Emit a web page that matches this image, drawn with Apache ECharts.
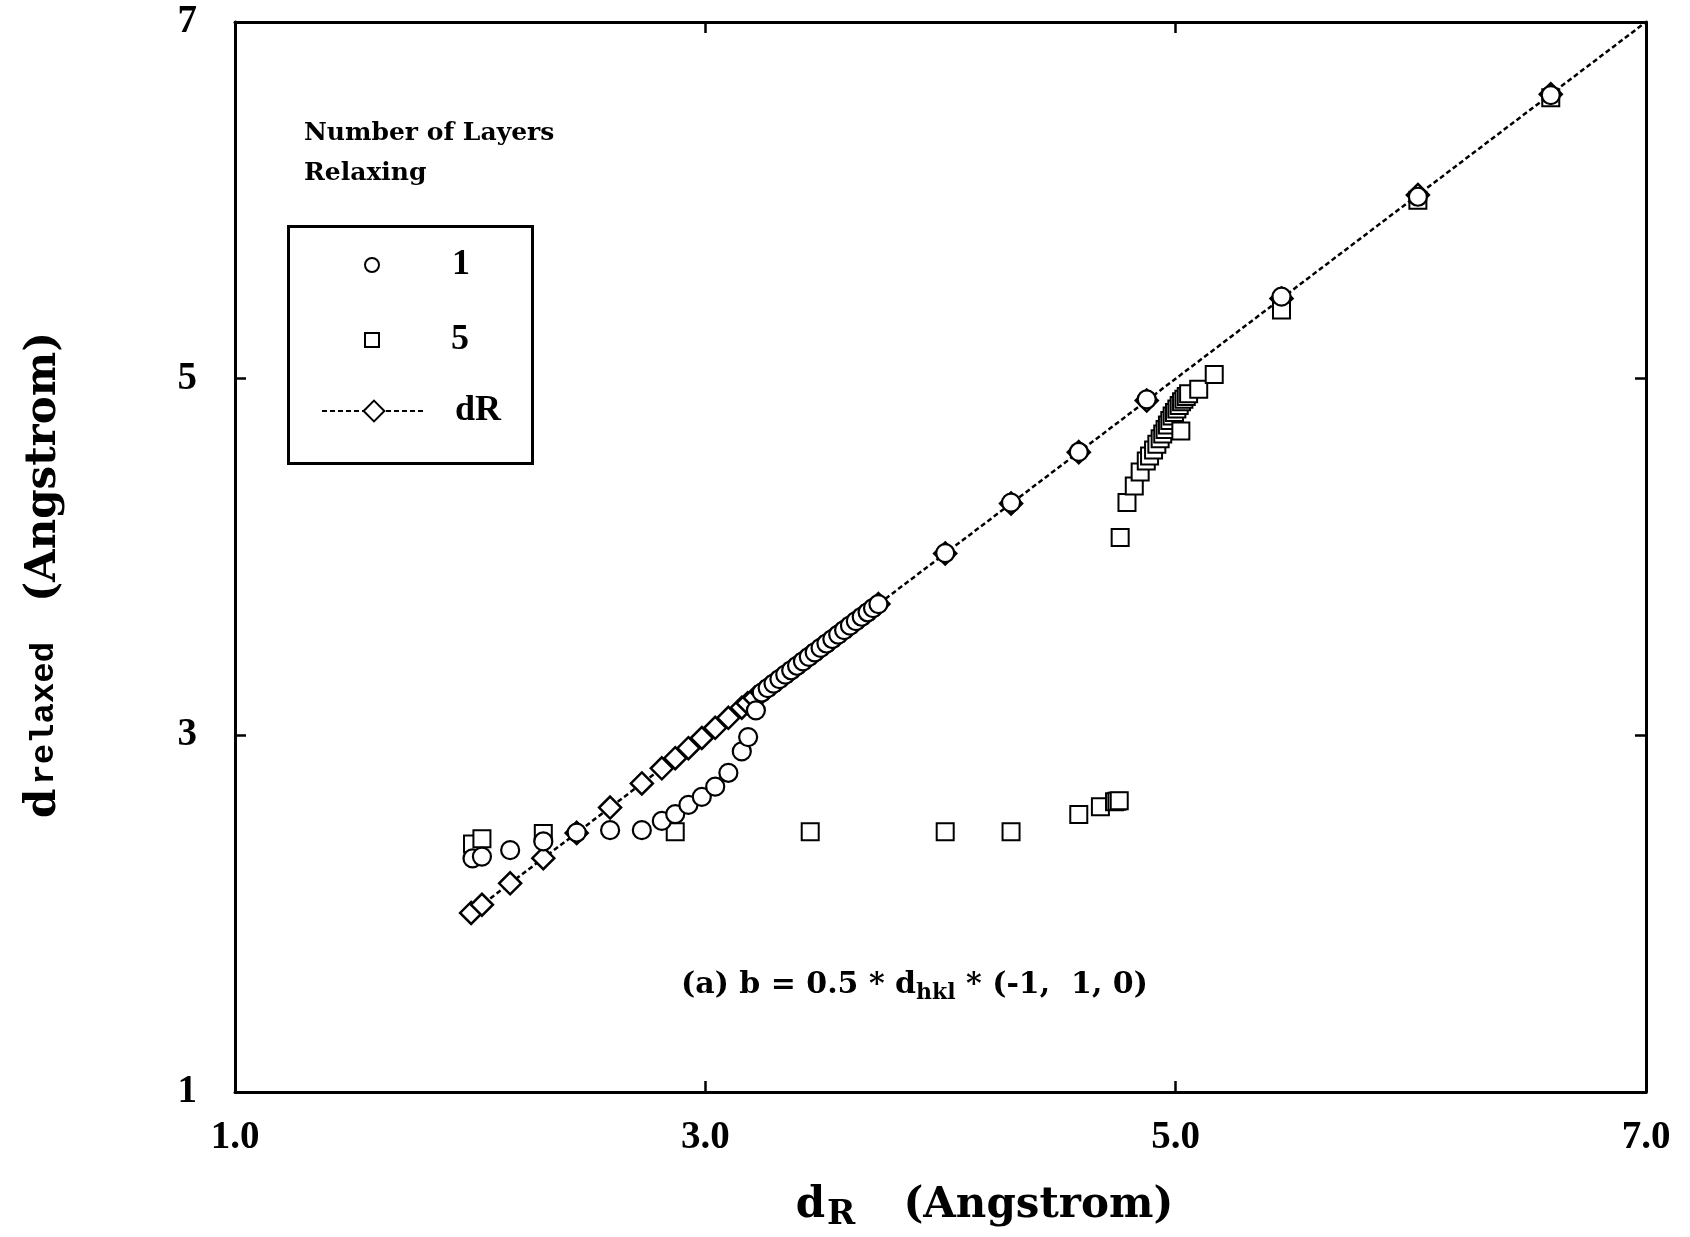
<!DOCTYPE html>
<html>
<head>
<meta charset="utf-8">
<script src="https://cdn.jsdelivr.net/npm/echarts@6/dist/echarts.min.js"></script>
<style>
html,body{margin:0;padding:0;background:#fff;}
#chart{width:1690px;height:1237px;}
</style>
</head>
<body>
<div id="chart"></div>
<script>
// d_R values of the reference (dR) line
const dR_x = [2.004, 2.05, 2.17, 2.311, 2.453, 2.595, 2.73, 2.815, 2.872, 2.928, 2.985, 3.042, 3.098, 3.155,
  3.18, 3.21, 3.24, 3.265, 3.29, 3.315, 3.34, 3.365, 3.39, 3.415, 3.44, 3.465, 3.49, 3.515, 3.54, 3.565,
  3.59, 3.615, 3.64, 3.665, 3.69, 3.713, 3.736, 4.02, 4.30, 4.588, 4.877, 5.45, 6.03, 6.595, 7.0];

// 1 layer relaxing (circles)
const one_x = [2.01, 2.05, 2.17, 2.311, 2.453, 2.595, 2.73, 2.815, 2.872, 2.928, 2.985, 3.042, 3.098, 3.155, 3.182, 3.215,
  3.24, 3.265, 3.29, 3.315, 3.34, 3.365, 3.39, 3.415, 3.44, 3.465, 3.49, 3.515, 3.54, 3.565,
  3.59, 3.615, 3.64, 3.665, 3.69, 3.713, 3.736, 4.02, 4.30, 4.588, 4.877, 5.45, 6.03, 6.595];
const one_y = [2.31, 2.32, 2.356, 2.405, 2.455, 2.468, 2.468, 2.52, 2.558, 2.61, 2.655, 2.712, 2.79, 2.91, 2.99, 3.14,
  3.24, 3.265, 3.29, 3.315, 3.34, 3.365, 3.39, 3.415, 3.44, 3.465, 3.49, 3.515, 3.54, 3.565,
  3.59, 3.615, 3.64, 3.665, 3.69, 3.713, 3.736, 4.022, 4.305, 4.589, 4.884, 5.46, 6.02, 6.59];

// 5 layers relaxing (squares)
const five_x = [2.01, 2.05, 2.311, 2.872, 3.446, 4.02, 4.30, 4.588, 4.68, 4.74, 4.75, 4.76,
  4.764, 4.793, 4.824, 4.849, 4.875, 4.889, 4.906, 4.92, 4.934, 4.945, 4.955, 4.965, 4.975, 4.985, 4.995,
  5.005, 5.015, 5.025, 5.035, 5.045, 5.055, 5.022, 5.098, 5.164, 5.45, 6.03, 6.595];
const five_y = [2.39, 2.42, 2.45, 2.46, 2.46, 2.46, 2.46, 2.556, 2.6, 2.627, 2.63, 2.633,
  4.11, 4.305, 4.398, 4.477, 4.538, 4.566, 4.60, 4.632, 4.663, 4.69, 4.715, 4.74, 4.765, 4.79, 4.81,
  4.83, 4.85, 4.87, 4.885, 4.9, 4.915, 4.706, 4.94, 5.024, 5.385, 6.0, 6.575];

const xTicks = ['1.0', '3.0', '5.0', '7.0'];
const yTicks = ['1', '3', '5', '7'];

const SERIF = '"DejaVu Serif", serif';
const NUMF = '"Liberation Serif", "DejaVu Serif", serif';

const pairs = (xs, ys) => xs.map((v, i) => [v, ys[i]]);
const dRData = dR_x.map((v, i) => i === dR_x.length - 1 ? { value: [v, v], symbol: 'none' } : [v, v]);

const chart = echarts.init(document.getElementById('chart'), null, { renderer: 'canvas' });

const tickStyle = { show: true, inside: true, length: 11, lineStyle: { color: '#000', width: 2.5 } };
const lineStyleAx = { show: true, lineStyle: { color: '#000', width: 3 } };
const legendText = pad => ({ rich: { t: { fontFamily: NUMF, fontWeight: 'bold', fontSize: 36, color: '#000', padding: [0, 0, 0, pad] } } });

chart.setOption({
  backgroundColor: '#fff',
  animation: false,
  grid: { left: 235, right: 44, top: 22, bottom: 143, containLabel: false },
  title: {
    text: 'Number of Layers\nRelaxing',
    left: 299, top: 108,
    textStyle: { fontFamily: SERIF, fontWeight: 'bold', fontSize: 25, lineHeight: 40, color: '#000' }
  },
  legend: [
    {
      data: ['1'], left: 359, top: 242,
      itemWidth: 14, itemHeight: 14,
      formatter: n => '{t|' + n + '}', textStyle: legendText(68)
    },
    {
      data: ['5'], left: 359, top: 317,
      itemWidth: 14, itemHeight: 14,
      formatter: n => '{t|' + n + '}', textStyle: legendText(67)
    },
    {
      data: ['dR'], left: 316, top: 388,
      itemWidth: 104, itemHeight: 26,
      formatter: n => '{t|' + n + '}', textStyle: legendText(24)
    }
  ],
  graphic: [
    {
      type: 'rect', left: 286, top: 224,
      shape: { width: 244, height: 237 },
      style: { fill: 'none', stroke: '#000', lineWidth: 3 },
      z: 1
    },
    {
      type: 'text', left: 681, top: 970,
      style: {
        text: '{t|(a) b = 0.5 * d}{s|hkl}{t| * (-1,  1, 0)}',
        rich: {
          t: { fontFamily: SERIF, fontWeight: 'bold', fontSize: 30, lineHeight: 38, verticalAlign: 'top', fill: '#000' },
          s: { fontFamily: SERIF, fontWeight: 'bold', fontSize: 22, lineHeight: 38, verticalAlign: 'top', padding: [12, 0, 0, 0], fill: '#000' }
        }
      },
      z: 10
    }
  ],
  xAxis: [
    {
      type: 'value', min: 1, max: 7, interval: 2, position: 'bottom',
      axisLine: lineStyleAx, axisTick: tickStyle, splitLine: { show: false },
      axisLabel: {
        margin: 26, fontFamily: NUMF, fontWeight: 'bold', fontSize: 39, color: '#000',
        formatter: v => xTicks[Math.round((v - 1) / 2)]
      },
      name: '{d|d}{r|R}{g|   }{a|(Angstrom)}',
      nameLocation: 'middle', nameGap: 93,
      nameTextStyle: {
        padding: [0, 0, 0, 88],
        rich: {
          d: { fontFamily: SERIF, fontWeight: 'bold', fontSize: 42, color: '#000', verticalAlign: 'top', lineHeight: 50 },
          r: { fontFamily: SERIF, fontWeight: 'bold', fontSize: 34, color: '#000', verticalAlign: 'top', lineHeight: 50, padding: [13, 0, 0, 2] },
          g: { fontFamily: SERIF, fontSize: 42, lineHeight: 50, padding: [0, 8, 0, 0] },
          a: { fontFamily: SERIF, fontWeight: 'bold', fontSize: 42, color: '#000', verticalAlign: 'top', lineHeight: 50 }
        }
      }
    },
    {
      type: 'value', min: 1, max: 7, interval: 2, position: 'top',
      axisLine: lineStyleAx, axisTick: tickStyle, axisLabel: { show: false }, splitLine: { show: false }
    }
  ],
  yAxis: [
    {
      type: 'value', min: 1, max: 7, interval: 2, position: 'left',
      axisLine: lineStyleAx, axisTick: tickStyle, splitLine: { show: false },
      axisLabel: {
        margin: 38, fontFamily: NUMF, fontWeight: 'bold', fontSize: 39, color: '#000',
        formatter: v => yTicks[Math.round((v - 1) / 2)]
      },
      name: '{d|d}{r|relaxed}{g|   }{a|(Angstrom)}',
      nameLocation: 'middle', nameGap: 170, nameRotate: 90,
      nameTextStyle: {
        padding: [0, 36, 0, 0],
        rich: {
          d: { fontFamily: SERIF, fontWeight: 'bold', fontSize: 42, color: '#000' },
          r: { fontFamily: '"Liberation Mono", monospace', fontWeight: 'bold', fontSize: 34, color: '#000', padding: [0, 0, 0, 4] },
          g: { fontFamily: SERIF, fontSize: 42 },
          a: { fontFamily: SERIF, fontWeight: 'bold', fontSize: 42, color: '#000' }
        }
      }
    },
    {
      type: 'value', min: 1, max: 7, interval: 2, position: 'right',
      axisLine: lineStyleAx, axisTick: tickStyle, axisLabel: { show: false }, splitLine: { show: false }
    }
  ],
  series: [
    {
      name: 'dR', type: 'line', data: dRData,
      symbol: 'diamond', symbolSize: 22, showSymbol: true,
      lineStyle: { color: '#000', width: 2.5, type: [5, 3] },
      itemStyle: { color: '#fff', borderColor: '#000', borderWidth: 2.5 },
      z: 2
    },
    {
      name: '5', type: 'scatter', data: pairs(five_x, five_y),
      symbol: 'rect', symbolSize: 17,
      itemStyle: { color: '#fff', borderColor: '#000', borderWidth: 2, opacity: 1 },
      z: 3
    },
    {
      name: '1', type: 'scatter', data: pairs(one_x, one_y),
      symbol: 'circle', symbolSize: 18,
      itemStyle: { color: '#fff', borderColor: '#000', borderWidth: 2.2, opacity: 1 },
      z: 4
    }
  ]
});
</script>
</body>
</html>
